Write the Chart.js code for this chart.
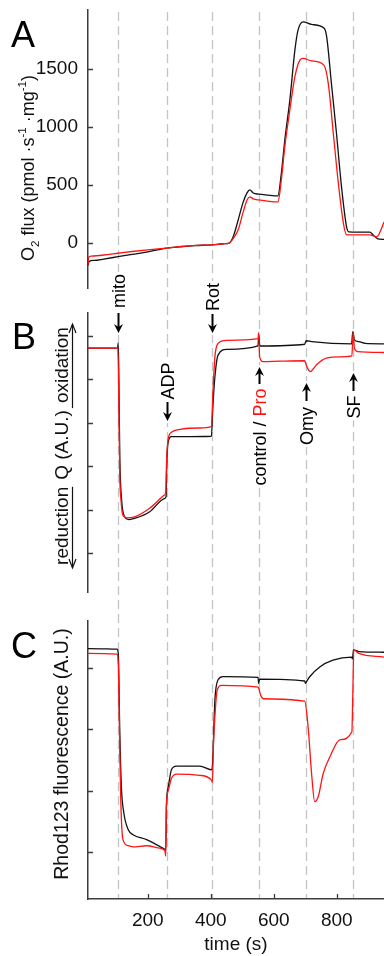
<!DOCTYPE html>
<html>
<head>
<meta charset="utf-8">
<script src="https://cdn.jsdelivr.net/npm/chart.js@4.4.0/dist/chart.umd.min.js"></script>
<style>
  html, body { margin: 0; padding: 0; background: #fff; }
  #wrap { position: relative; width: 384px; height: 956px; overflow: hidden; }
  #wrap canvas { position: absolute; left: 0; top: 0; }
</style>
</head>
<body>
<div id="wrap">
  <canvas id="panelA" width="384" height="956"></canvas>
  <canvas id="panelB" width="384" height="956"></canvas>
  <canvas id="panelC" width="384" height="956"></canvas>
</div>
<script>
// ---- data ----
// panel A: O2 flux, control (black) and Pro (red)
const o2TimeCtrl = [10, 13, 30, 60, 105, 150, 200, 260, 302, 350, 405, 440, 458, 472, 487, 502, 515, 524, 535, 552, 580, 613, 624, 635, 651, 667, 677, 693, 720, 760, 768, 783, 799, 815, 831, 838, 870, 905, 915, 930, 950];
const o2FluxCtrl = [-195, -162, -152, -140, -120, -100, -78, -45, -34, -24, -17, -8, -2, 60, 198, 345, 431, 457, 430, 420, 412, 405, 601, 888, 1233, 1664, 1836, 1908, 1885, 1853, 1778, 1377, 948, 485, 140, 95, 93, 92, 70, 35, 30];
const o2TimePro = [10, 12, 20, 60, 105, 150, 200, 260, 302, 350, 405, 440, 458, 472, 487, 502, 515, 524, 535, 552, 580, 613, 624, 635, 651, 667, 683, 693, 720, 759, 773, 789, 805, 821, 831, 860, 905, 918, 927, 940, 950];
const o2FluxPro = [-190, -125, -115, -105, -90, -75, -60, -45, -33, -22, -17, -8, -2, 40, 112, 258, 370, 397, 380, 370, 360, 353, 543, 830, 1147, 1434, 1578, 1592, 1570, 1534, 1377, 946, 515, 170, 69, 68, 68, 58, 52, 110, 180];

// panel B: Q redox state (A.U.)
const qTimeCtrl = [10, 104, 106, 108, 111, 117, 125, 140, 160, 206, 254, 258, 260, 264, 275, 302, 402, 406, 413, 423, 450, 550, 552, 556, 698, 703, 720, 847, 851, 856, 870, 890, 950];
const qCtrl = [4.72, 4.72, 4.84, 4.0, 2.2, 1.2, 0.85, 0.77, 0.8, 0.95, 1.26, 1.3, 2.0, 2.53, 2.68, 2.68, 2.69, 3.3, 4.06, 4.56, 4.69, 4.77, 5.02, 4.77, 4.81, 4.89, 4.87, 4.82, 5.1, 4.91, 4.87, 4.83, 4.82];
const qTimePro = [10, 105, 108, 111, 115, 119, 125, 132, 152, 206, 254, 257, 259, 264, 275, 302, 365, 402, 407, 413, 423, 450, 550, 552, 555, 566, 618, 698, 703, 710, 717, 725, 735, 767, 810, 848, 852, 856, 866, 950];
const qPro = [4.72, 4.72, 3.4, 1.75, 1.2, 0.92, 0.84, 0.81, 0.82, 1.03, 1.34, 1.4, 1.98, 2.6, 2.78, 2.85, 2.88, 2.91, 3.75, 4.52, 4.83, 4.9, 4.94, 5.08, 4.52, 4.41, 4.42, 4.43, 4.33, 4.22, 4.18, 4.24, 4.33, 4.49, 4.52, 4.54, 5.1, 4.72, 4.64, 4.62];

// panel C: Rhod123 fluorescence (A.U.)
const rhTimeCtrl = [10, 102, 106, 111, 116, 124, 138, 153, 196, 254, 257, 259, 265, 275, 291, 365, 402, 405, 413, 423, 439, 550, 552, 555, 698, 701, 704, 714, 746, 788, 847, 850, 853, 870, 950];
const rhCtrl = [4.32, 4.31, 4.25, 2.94, 2.06, 1.63, 1.36, 1.28, 1.2, 1.04, 1.03, 1.74, 2.06, 2.34, 2.4, 2.4, 2.34, 2.4, 3.48, 3.81, 3.86, 3.85, 3.75, 3.82, 3.79, 3.75, 3.78, 3.86, 4.02, 4.13, 4.18, 4.15, 4.3, 4.27, 4.26];
const rhTimePro = [10, 103, 106, 110, 114, 121, 138, 153, 196, 238, 254, 257, 259, 265, 275, 291, 365, 402, 405, 408, 413, 420, 434, 550, 553, 558, 567, 698, 709, 720, 730, 741, 757, 778, 810, 848, 851, 854, 870, 950];
const rhPro = [4.24, 4.23, 4.1, 2.94, 1.85, 1.2, 1.1, 1.08, 1.1, 1.06, 1.02, 0.93, 1.74, 2.0, 2.2, 2.27, 2.25, 2.17, 2.13, 2.7, 3.21, 3.64, 3.72, 3.69, 3.66, 3.56, 3.5, 3.46, 3.04, 2.28, 1.82, 1.9, 2.28, 2.55, 2.83, 2.96, 3.6, 4.3, 4.24, 4.18];

// additions
const eventTimes = [105, 260, 405, 552, 701, 851];
const eventLabels = ['mito', 'ADP', 'Rot', 'control / Pro', 'Omy', 'SF'];

// ticks
const timeTicks = [200, 400, 600, 800];
const fluxTicks = [0, 500, 1000, 1500];
const qTicks = [0, 1, 2, 3, 4, 5];
const rhTicks = [1, 2, 3, 4];

// ---- styling ----
const FONT = "'Liberation Sans', Arial, sans-serif";
const AXIS = '#3c3c3c';
const RED = '#ff1414';
const BLACK = '#111111';
const DASH_TOP = 12, DASH_BOTTOM = 898;

Chart.defaults.font.family = FONT;
Chart.defaults.color = '#111';

function pts(ts, vs) {
  return ts.map((t, i) => ({ x: t, y: vs[i] }));
}

// vertical text, starting at screen y = yBottom and running upward
function vText(ctx, str, xBase, yBottom) {
  ctx.save();
  ctx.translate(xBase, yBottom);
  ctx.rotate(-Math.PI / 2);
  ctx.textAlign = 'left';
  ctx.textBaseline = 'alphabetic';
  ctx.fillText(str, 0, 0);
  ctx.restore();
}

function inwardTicks(chart, yVals, xVals) {
  const { ctx, chartArea: a, scales } = chart;
  ctx.save();
  ctx.strokeStyle = AXIS;
  ctx.lineWidth = 1.3;
  ctx.beginPath();
  yVals.forEach(v => {
    const y = Math.round(scales.y.getPixelForValue(v)) + 0.5;
    ctx.moveTo(a.left, y); ctx.lineTo(a.left + 5, y);
  });
  (xVals || []).forEach(v => {
    const x = Math.round(scales.x.getPixelForValue(v)) + 0.5;
    ctx.moveTo(x, a.bottom); ctx.lineTo(x, a.bottom - 5);
  });
  ctx.stroke();
  ctx.restore();
}

function letter(ctx, ch, x, y) {
  ctx.save();
  ctx.font = `36px ${FONT}`;
  ctx.fillStyle = '#000';
  ctx.textBaseline = 'alphabetic';
  ctx.fillText(ch, x, y);
  ctx.restore();
}

function solidArrow(ctx, x, from, to) {
  const d = Math.sign(to - from);
  ctx.beginPath();
  ctx.moveTo(x, from); ctx.lineTo(x, to - d * 5);
  ctx.lineWidth = 2; ctx.stroke();
  ctx.beginPath();
  ctx.moveTo(x, to);
  ctx.lineTo(x - 4.5, to - d * 9);
  ctx.lineTo(x, to - d * 6);
  ctx.lineTo(x + 4.5, to - d * 9);
  ctx.closePath(); ctx.fill();
}

function openHead(ctx, x, y, d) {
  ctx.beginPath();
  ctx.moveTo(x - 3.5, y - d * 9); ctx.lineTo(x, y); ctx.lineTo(x + 3.5, y - d * 9);
  ctx.stroke();
}

// layout of the addition labels (screen px): label centre, arrow tail and tip
const labelLayout = [
  { mid: 291, tail: 313, tip: 333 },
  { mid: 381, tail: 402, tip: 421 },
  { mid: 297, tail: 314, tip: 333 },
  { mid: 437, tail: 384, tip: 367 },
  { mid: 426, tail: 401, tip: 383 },
  { mid: 407, tail: 391, tip: 373 }
];

const guidePlugin = {
  id: 'guides',
  beforeDatasetsDraw(chart) {
    const { ctx, scales } = chart;
    ctx.save();
    ctx.strokeStyle = '#c4c4c4';
    ctx.lineWidth = 1.3;
    ctx.setLineDash([9, 5]);
    eventTimes.forEach(t => {
      const x = Math.round(scales.x.getPixelForValue(t)) + 0.5;
      ctx.beginPath(); ctx.moveTo(x, DASH_TOP); ctx.lineTo(x, DASH_BOTTOM); ctx.stroke();
    });
    ctx.restore();
  },
  afterDatasetsDraw(chart) {
    const { ctx, scales } = chart;
    ctx.save();
    ctx.font = `18px ${FONT}`;
    eventTimes.forEach((t, i) => {
      const x = Math.round(scales.x.getPixelForValue(t)) + 0.5;
      const L = labelLayout[i];
      const label = eventLabels[i];
      const w = ctx.measureText(label).width;
      const top = Math.min(L.mid - w / 2, L.tip, L.tail) - 2;
      const bot = Math.max(L.mid + w / 2, L.tip, L.tail) + 2;
      ctx.fillStyle = '#fff';
      ctx.fillRect(x - 9, top, 18, bot - top);
      ctx.fillStyle = '#000'; ctx.strokeStyle = '#000';
      solidArrow(ctx, x, L.tail, L.tip);
      const xb = x + 6.5;
      if (label.includes('/')) {
        const parts = label.split('/');
        const first = parts[0] + '/ ';
        const w1 = ctx.measureText(first).width;
        ctx.fillStyle = '#000';
        vText(ctx, first, xb, L.mid + w / 2);
        ctx.fillStyle = RED;
        vText(ctx, parts[1].trim(), xb, L.mid + w / 2 - w1);
      } else {
        vText(ctx, label, xb, L.mid + w / 2);
      }
    });
    ctx.restore();
  }
};

function fluxTitle(ctx) {
  const pieces = [
    ['O', 0], ['2', 5], [' flux (pmol \u00B7s', 0], ['-1', -8], [' \u00B7mg', 0], ['-1', -8], [')', 0]
  ];
  const xb = 34, yc = 168;
  ctx.save();
  const fontOf = off => off === 0 ? `18px ${FONT}` : `11.5px ${FONT}`;
  let total = 0;
  pieces.forEach(p => { ctx.font = fontOf(p[1]); total += ctx.measureText(p[0]).width; });
  ctx.translate(xb, yc + total / 2);
  ctx.rotate(-Math.PI / 2);
  ctx.fillStyle = '#111';
  ctx.textBaseline = 'alphabetic';
  let pos = 0;
  pieces.forEach(p => {
    ctx.font = fontOf(p[1]);
    ctx.fillText(p[0], pos, p[1]);
    pos += ctx.measureText(p[0]).width;
  });
  ctx.restore();
}

function qTitle(ctx) {
  ctx.save();
  ctx.font = `19px ${FONT}`;
  ctx.fillStyle = '#111';
  ctx.strokeStyle = '#111';
  ctx.lineWidth = 1.2;
  const words = ['reduction', 'Q (A.U.)', 'oxidation'];
  const gap = 7;
  const w = words.map(s => ctx.measureText(s).width);
  const total = w[0] + w[1] + w[2] + 2 * gap;
  const xb = 68, ul = 72.5;
  let y = 446 + total / 2;
  vText(ctx, words[0], xb, y);
  ctx.beginPath(); ctx.moveTo(ul, y + 3); ctx.lineTo(ul, y - w[0]); ctx.stroke();
  openHead(ctx, ul, y + 3, 1);
  y -= w[0] + gap;
  vText(ctx, words[1], xb, y);
  y -= w[1] + gap;
  vText(ctx, words[2], xb, y);
  ctx.beginPath(); ctx.moveTo(ul, y + 5); ctx.lineTo(ul, y - w[2] - 3); ctx.stroke();
  openHead(ctx, ul, y - w[2] - 3, -1);
  ctx.restore();
}

function rhTitle(ctx) {
  ctx.save();
  ctx.font = `19.5px ${FONT}`;
  ctx.fillStyle = '#111';
  const s = 'Rhod123 fluorescence (A.U.)';
  const w = ctx.measureText(s).width;
  vText(ctx, s, 68, 754 + w / 2);
  ctx.restore();
}

function makePanel(id, cfg) {
  return new Chart(document.getElementById(id), {
    type: 'line',
    data: {
      datasets: [
        { data: pts(cfg.tPro, cfg.vPro), borderColor: RED },
        { data: pts(cfg.tCtrl, cfg.vCtrl), borderColor: BLACK }
      ]
    },
    options: {
      responsive: false,
      animation: false,
      events: [],
      layout: { padding: { top: cfg.top, bottom: cfg.bottom, left: 0, right: 0 } },
      elements: {
        point: { radius: 0 },
        line: { borderWidth: 1.3, cubicInterpolationMode: 'monotone', fill: false }
      },
      plugins: { legend: { display: false }, tooltip: { enabled: false } },
      scales: {
        x: {
          type: 'linear', min: 10, max: 950,
          display: cfg.showX,
          afterBuildTicks: s => { s.ticks = timeTicks.map(v => ({ value: v })); },
          afterFit: s => { s.height = cfg.showX ? 57 : 0; s.paddingLeft = 0; s.paddingRight = 0; },
          grid: { display: true, drawOnChartArea: false, drawTicks: false },
          border: { display: true, color: AXIS, width: 1.5 },
          ticks: { font: { size: 19, lineHeight: 1 }, color: '#111', padding: 12, maxRotation: 0, callback: v => String(v) },
          title: { display: true, text: 'time (s)', font: { size: 19 }, color: '#111', padding: { top: 0, bottom: 0 } }
        },
        y: {
          type: 'linear', min: cfg.yMin, max: cfg.yMax,
          afterBuildTicks: s => { s.ticks = cfg.yTicks.map(v => ({ value: v })); },
          afterFit: s => { s.width = 88; s.paddingTop = 0; s.paddingBottom = 0; },
          grid: { display: true, drawOnChartArea: false, drawTicks: false },
          border: { display: true, color: AXIS, width: 1.5 },
          ticks: { display: cfg.showYLabels, font: { size: 19, lineHeight: 1 }, color: '#111', padding: 10, callback: v => String(v) }
        }
      }
    },
    plugins: cfg.plugins
  });
}

makePanel('panelA', {
  tCtrl: o2TimeCtrl, vCtrl: o2FluxCtrl, tPro: o2TimePro, vPro: o2FluxPro,
  top: 10, bottom: 956 - 288, yMin: -390, yMax: 2010, yTicks: fluxTicks,
  showX: false, showYLabels: true,
  plugins: [guidePlugin, {
    id: 'decorA',
    afterDraw(chart) {
      inwardTicks(chart, fluxTicks);
      letter(chart.ctx, 'A', 11, 47);
      fluxTitle(chart.ctx);
    }
  }]
});

makePanel('panelB', {
  tCtrl: qTimeCtrl, vCtrl: qCtrl, tPro: qTimePro, vPro: qPro,
  top: 313, bottom: 956 - 592, yMin: -0.9, yMax: 5.53, yTicks: qTicks,
  showX: false, showYLabels: false,
  plugins: [{
    id: 'decorB',
    afterDraw(chart) {
      inwardTicks(chart, qTicks);
      letter(chart.ctx, 'B', 12, 349);
      qTitle(chart.ctx);
    }
  }]
});

makePanel('panelC', {
  tCtrl: rhTimeCtrl, vCtrl: rhCtrl, tPro: rhTimePro, vPro: rhPro,
  top: 621, bottom: 0, yMin: 0.23, yMax: 4.77, yTicks: rhTicks,
  showX: true, showYLabels: false,
  plugins: [{
    id: 'decorC',
    afterDraw(chart) {
      inwardTicks(chart, rhTicks, timeTicks);
      letter(chart.ctx, 'C', 11, 658);
      rhTitle(chart.ctx);
    }
  }]
});
</script>
</body>
</html>
